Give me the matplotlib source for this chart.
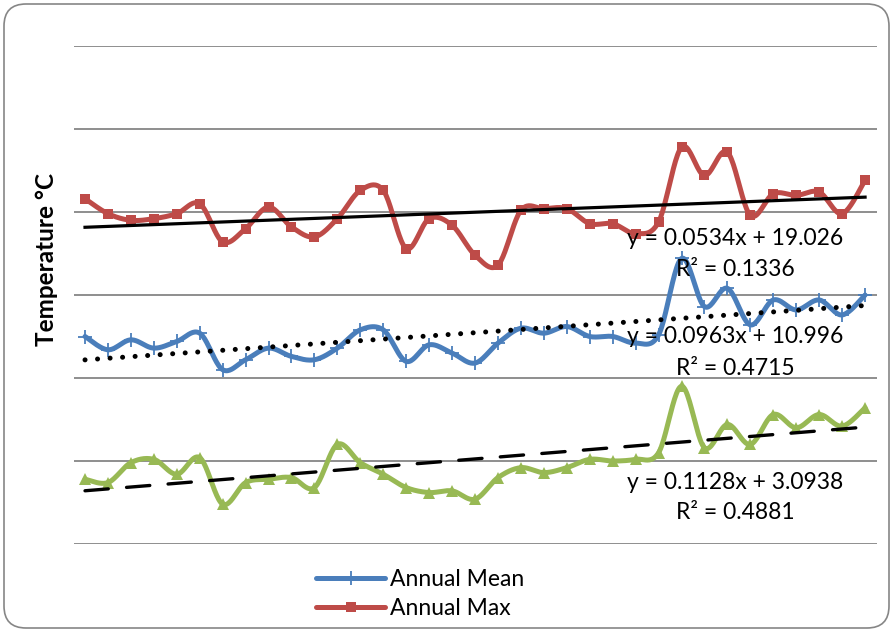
import numpy as np
import matplotlib
matplotlib.use("Agg")
import matplotlib.pyplot as plt
from matplotlib.lines import Line2D
from matplotlib.patches import FancyBboxPatch
from matplotlib.transforms import IdentityTransform

plt.rcParams['font.family'] = ['Lato', 'DejaVu Sans']

# yearly temperatures, 35 years
years = np.arange(1, 36)
annual_max = [20.8, 19.9, 19.5, 19.6, 19.9, 20.5, 18.2, 19.0, 20.3, 19.1, 18.5, 19.6,
              21.3, 21.3, 17.8, 19.6, 19.2, 17.4, 16.8, 20.1, 20.2, 20.2, 19.3, 19.3,
              18.7, 19.4, 23.9, 22.2, 23.6, 19.8, 21.1, 21.0, 21.2, 19.9, 21.9]
annual_mean = [12.5, 11.7, 12.3, 11.8, 12.2, 12.7, 10.5, 11.1, 11.8, 11.3, 11.1, 11.8,
               12.9, 12.9, 11.0, 12.0, 11.5, 10.9, 12.1, 13.0, 12.7, 13.1, 12.5, 12.5,
               12.1, 12.6, 17.2, 14.3, 15.4, 13.2, 14.7, 14.1, 14.7, 13.8, 15.0]
annual_min = [3.9, 3.7, 4.9, 5.1, 4.2, 5.2, 2.4, 3.7, 3.9, 4.0, 3.4, 6.0,
              4.9, 4.2, 3.4, 3.1, 3.2, 2.7, 4.0, 4.6, 4.3, 4.6, 5.1, 5.0,
              5.1, 5.5, 9.5, 5.8, 7.2, 6.0, 7.8, 7.0, 7.8, 7.1, 8.2]

# linear trend fits (slope, intercept, R^2)
trend_max = (0.0534, 19.026, 0.1336)
trend_mean = (0.0963, 10.996, 0.4715)
trend_min = (0.1128, 3.0938, 0.4881)

c_mean = '#4A7EBB'
c_max = '#BE4B48'
c_min = '#98B954'


def smooth(x, y, n=24):
    # bezier smoothing through every point, like a spreadsheet "smoothed line"
    x = np.asarray(x, float)
    y = np.asarray(y, float)
    px = np.concatenate([[x[0]], x, [x[-1]]])
    py = np.concatenate([[y[0]], y, [y[-1]]])
    t = np.linspace(0, 1, n)[:, None]
    xs, ys = [], []
    for i in range(1, len(px) - 2):
        p0 = np.array([px[i], py[i]])
        p3 = np.array([px[i + 1], py[i + 1]])
        p1 = p0 + (p3 - np.array([px[i - 1], py[i - 1]])) / 6
        p2 = p3 - (np.array([px[i + 2], py[i + 2]]) - p0) / 6
        b = ((1 - t) ** 3) * p0 + 3 * ((1 - t) ** 2) * t * p1 + 3 * (1 - t) * t ** 2 * p2 + t ** 3 * p3
        xs.append(b[:, 0])
        ys.append(b[:, 1])
    return np.concatenate(xs), np.concatenate(ys)


fig = plt.figure(figsize=(8.9, 6.3), dpi=100)
ax = fig.add_axes([74 / 890, 1 - 544 / 630, 803 / 890, 498 / 630])

lw = 3.6
for vals, col, mk, ms, mew in [(annual_max, c_max, 's', 7.5, 0),
                               (annual_mean, c_mean, '+', 10, 1.3),
                               (annual_min, c_min, '^', 8, 0)]:
    sx, sy = smooth(years, vals)
    ax.plot(sx, sy, color=col, lw=lw, solid_capstyle='round', zorder=3)
    ax.plot(years, vals, ls='none', marker=mk, ms=ms, color=col, mew=mew, zorder=4)

# trend lines
ax.plot(years, trend_max[0] * years + trend_max[1], color='black', lw=2.3, zorder=5)
ax.plot(years, trend_mean[0] * years + trend_mean[1], color='black', lw=3.6,
        ls=(0, (0.01, 2.5)), dash_capstyle='round', zorder=5)
ax.plot(years, trend_min[0] * years + trend_min[1], color='black', lw=2.4,
        ls=(0, (7, 5.5)), dash_capstyle='round', zorder=5)

for (a, b, r2), y1, y2 in [(trend_max, 18.43, 16.51),
                           (trend_mean, 12.47, 10.60),
                           (trend_min, 3.73, 1.87)]:
    ax.text(29.33, y1, f'y = {a}x + {b}', ha='center', va='center', fontsize=16.5, zorder=6)
    ax.text(29.33, y2, f'R² = {r2}', ha='center', va='center', fontsize=16.5, zorder=6)

ax.set_xlim(0.52, 35.52)
ax.set_ylim(0, 30)
ax.set_yticks(np.arange(0, 31, 5))
ax.set_xticks([])
ax.tick_params(left=False, labelleft=False)
ax.grid(axis='y', color='#868686', lw=1.3)
for s in ax.spines.values():
    s.set_visible(False)

fig.text(47 / 890, 1 - 260 / 630, 'Temperature °C', rotation=90, ha='center', va='center',
         fontsize=17.5, fontweight='bold')

handles = [Line2D([], [], color=c_mean, lw=lw, marker='+', ms=10, mew=1.3, solid_capstyle='round'),
           Line2D([], [], color=c_max, lw=lw, marker='s', ms=7.5, mew=0, solid_capstyle='round')]
fig.legend(handles, ['Annual Mean', 'Annual Max'], loc='upper left',
           bbox_to_anchor=(305 / 890, 1 - 558 / 630), frameon=False, fontsize=16.5,
           handlelength=3.0, handletextpad=0.2, labelspacing=0.33, borderpad=0)

# rounded chart border
fig.add_artist(FancyBboxPatch((4, 2), 885, 624, boxstyle='round,pad=0,rounding_size=22',
                              transform=IdentityTransform(), fill=False,
                              edgecolor='#868686', lw=1.2))

fig.savefig('out.png', dpi=100)
